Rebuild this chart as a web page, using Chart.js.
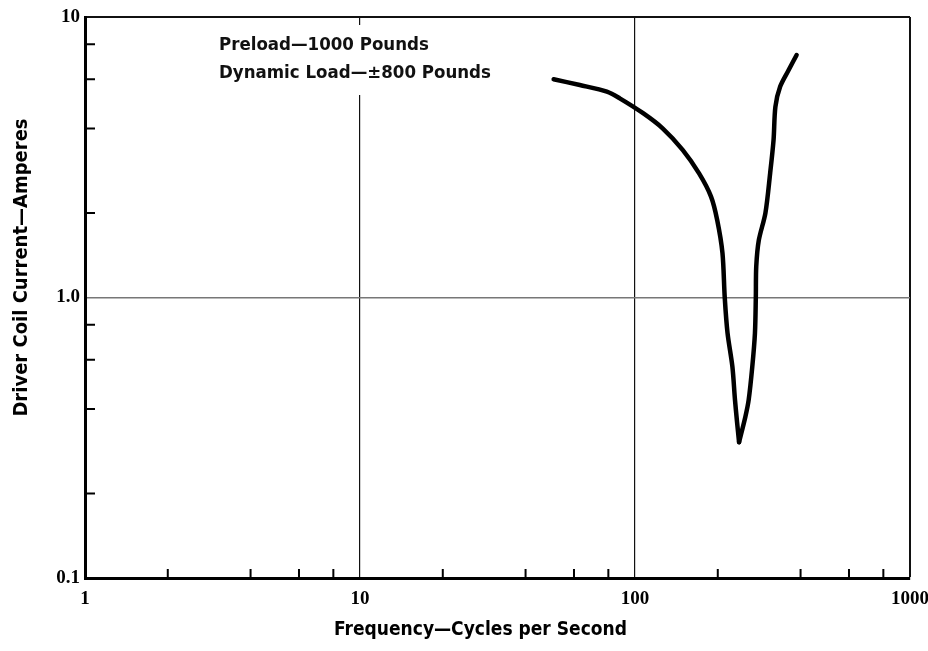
<!DOCTYPE html>
<html lang="en">
<head>
    <meta charset="UTF-8">
    <title>Driver Coil Current vs Frequency</title>
    <style>
        html, body { margin: 0; padding: 0; background: #fff; }
    </style>
</head>
<body>
    <canvas id="myChart" width="928" height="651"></canvas>

    <script src="https://cdn.jsdelivr.net/npm/chart.js"></script>
    <script>
        // data (frequency in c/s, current in A)
        const frequency = [50.6, 63, 79, 88, 107, 126, 149, 171, 189, 199, 208, 212, 217, 226, 231, 235, 239, 252, 259, 267, 273, 275, 276, 282, 298, 310, 319, 324, 337, 362, 387];
        const current = [6.0, 5.72, 5.42, 5.13, 4.54, 4.01, 3.36, 2.77, 2.29, 1.89, 1.44, 1.0, 0.747, 0.567, 0.431, 0.36, 0.305, 0.376, 0.431, 0.567, 0.747, 1.0, 1.29, 1.6, 2.0, 2.77, 3.64, 4.79, 5.64, 6.47, 7.32];
        const tipIndex = 16; // the sharp bottom of the V

        const xTicks = [1, 10, 100, 1000];
        const yTicks = [0.1, 1, 10];
        const yTickLabels = ['0.1', '1.0', '10'];
        const minorSteps = [2, 4, 6, 8];
        const noteLines = ['Preload\u20141000 Pounds', 'Dynamic Load\u2014\u00b1800 Pounds'];
        const xTitle = 'Frequency\u2014Cycles per Second';
        const yTitle = 'Driver Coil Current\u2014Amperes';

        const sansNarrow = "'Liberation Sans Narrow', 'DejaVu Sans Condensed', sans-serif";
        const tickFont = { family: "'Liberation Serif', 'DejaVu Serif', serif", size: 19, weight: 'bold' };

        const points = frequency.map((f, i) => ({ x: f, y: current[i] }));

        // inward minor ticks, axis titles and the note box
        const extras = {
            id: 'extras',
            beforeDatasetsDraw(chart) {
                const c = chart.ctx;
                const a = chart.chartArea;
                c.save();
                c.font = 'bold 18.5px ' + sansNarrow;
                const w = Math.max(...noteLines.map(t => c.measureText(t).width));
                c.fillStyle = '#fff';
                c.fillRect(a.left + 130, a.top + 8, w + 10, 70);
                c.fillStyle = '#111';
                c.textBaseline = 'middle';
                noteLines.forEach((t, i) => c.fillText(t, a.left + 134, a.top + 28 + i * 28));
                c.restore();
            },
            afterDraw(chart) {
                const c = chart.ctx;
                const a = chart.chartArea;
                const xs = chart.scales.x, ys = chart.scales.y;
                c.save();
                c.strokeStyle = '#000';
                c.lineWidth = 2;
                c.beginPath();
                xTicks.slice(0, -1).forEach(d => minorSteps.forEach(m => {
                    const px = xs.getPixelForValue(d * m);
                    c.moveTo(px, a.bottom);
                    c.lineTo(px, a.bottom - 9);
                }));
                yTicks.slice(0, -1).forEach(d => minorSteps.forEach(m => {
                    const py = ys.getPixelForValue(d * m);
                    c.moveTo(a.left, py);
                    c.lineTo(a.left + 10, py);
                }));
                c.stroke();

                // titles sit a little off centre in the original
                c.fillStyle = '#000';
                c.textAlign = 'center';
                c.textBaseline = 'middle';
                c.font = 'bold 19px ' + sansNarrow;
                c.fillText(xTitle, a.left + (a.right - a.left) / 2 - 17, a.bottom + 52);
                c.font = 'bold 20px ' + sansNarrow;
                c.translate(22, a.top + (a.bottom - a.top) / 2 - 30);
                c.rotate(-Math.PI / 2);
                c.fillText(yTitle, 0, 0);
                c.restore();
            }
        };

        const lineStyle = {
            showLine: true,
            borderColor: '#000',
            borderWidth: 4.5,
            pointRadius: 0,
            tension: 0.3,
            borderCapStyle: 'round',
            borderJoinStyle: 'round'
        };

        // two branches meeting at the tip so the V stays sharp
        const data = {
            datasets: [
                Object.assign({ data: points.slice(0, tipIndex + 1) }, lineStyle),
                Object.assign({ data: points.slice(tipIndex) }, lineStyle)
            ]
        };

        const config = {
            type: 'scatter',
            data: data,
            plugins: [extras],
            options: {
                responsive: false,
                animation: false,
                layout: { padding: { top: 17, right: 18, left: 0, bottom: 0 } },
                plugins: { legend: { display: false }, tooltip: { enabled: false } },
                scales: {
                    x: {
                        type: 'logarithmic',
                        min: 1,
                        max: 1000,
                        afterBuildTicks: s => { s.ticks = xTicks.map(v => ({ value: v })); },
                        afterFit: s => { s.height = 73; s.paddingLeft = 0; s.paddingRight = 0; },
                        ticks: { color: '#000', font: tickFont, padding: 10, maxRotation: 0, callback: v => String(v) },
                        grid: {
                            drawTicks: false,
                            color: ctx => ctx.tick && ctx.tick.value === 1 ? 'rgba(0,0,0,0)' : '#111',
                            lineWidth: ctx => ctx.tick && ctx.tick.value === 1000 ? 2 : 1.2
                        },
                        border: { color: '#000', width: 3 }
                    },
                    y: {
                        type: 'logarithmic',
                        min: 0.1,
                        max: 10,
                        afterBuildTicks: s => { s.ticks = yTicks.map(v => ({ value: v })); },
                        afterFit: s => { s.width = 85; s.paddingTop = 0; s.paddingBottom = 0; },
                        ticks: { color: '#000', font: tickFont, padding: 5, callback: v => yTickLabels[yTicks.indexOf(v)] },
                        grid: {
                            drawTicks: false,
                            color: ctx => {
                                if (!ctx.tick) return '#000';
                                if (ctx.tick.value === 0.1) return 'rgba(0,0,0,0)';
                                if (ctx.tick.value === 10) return '#111';
                                return '#777';
                            },
                            lineWidth: ctx => ctx.tick && ctx.tick.value === 10 ? 2 : 1.5
                        },
                        border: { color: '#000', width: 3 }
                    }
                }
            }
        };

        const ctx = document.getElementById('myChart').getContext('2d');
        new Chart(ctx, config);
    </script>
</body>
</html>
